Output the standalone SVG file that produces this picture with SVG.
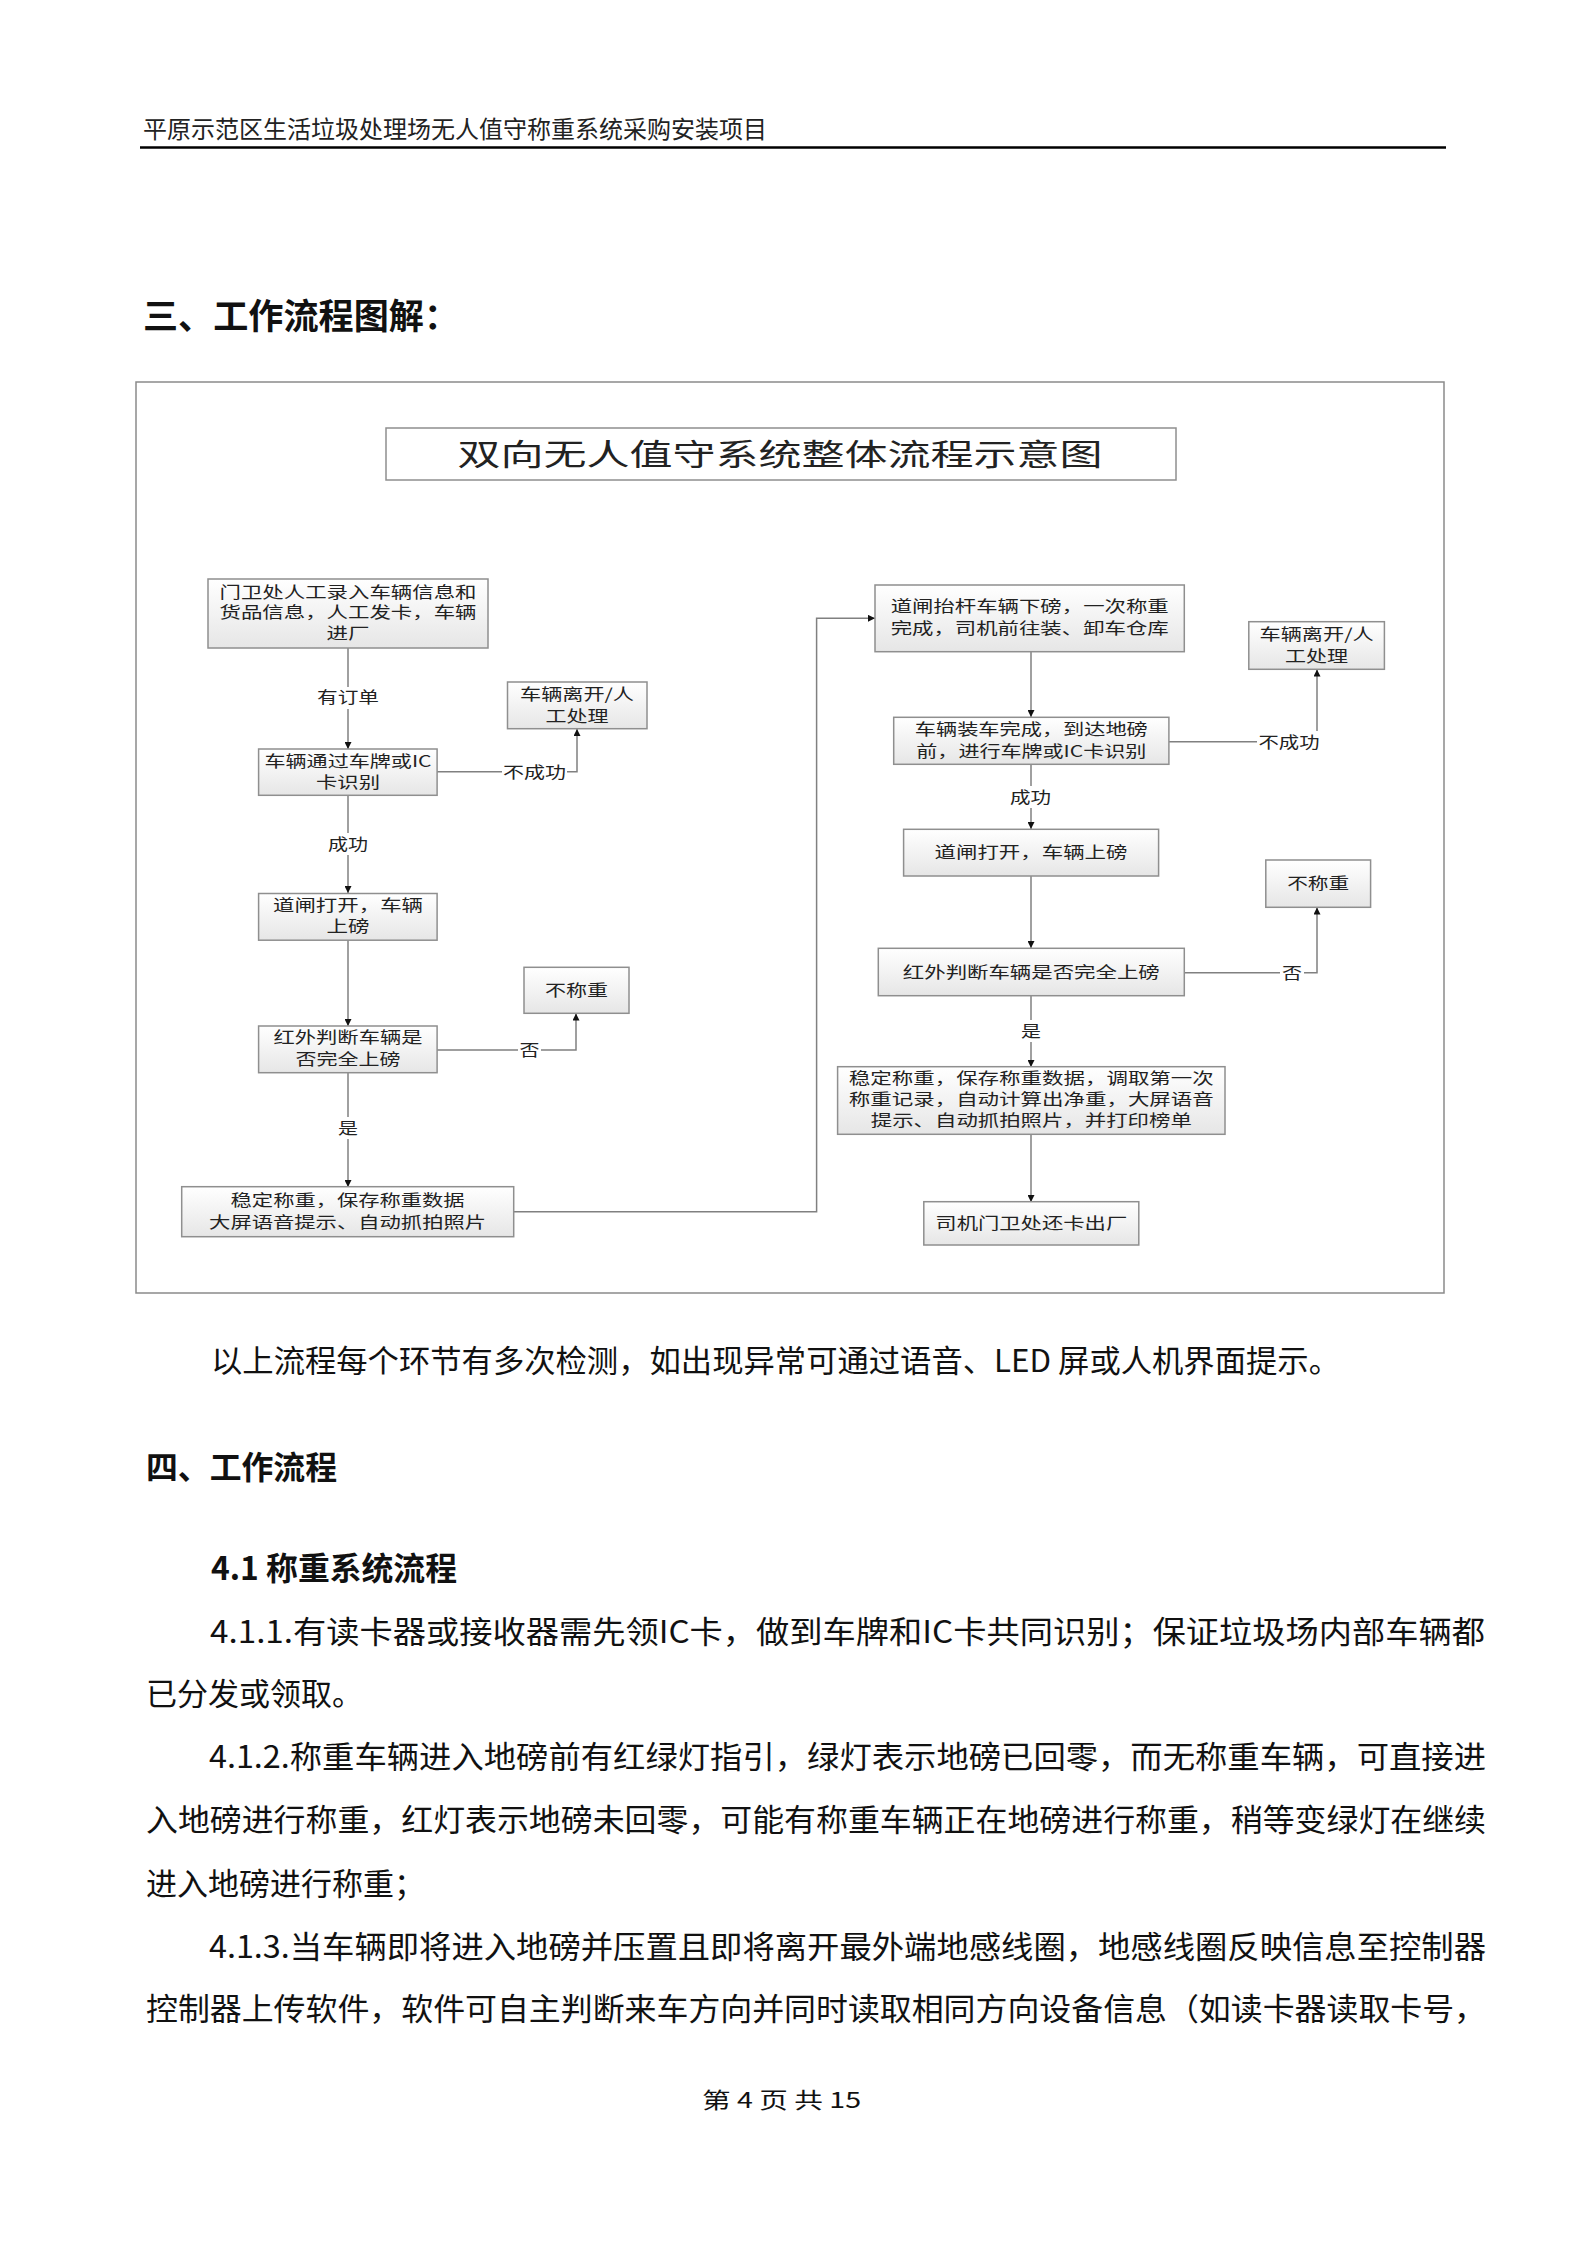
<svg xmlns="http://www.w3.org/2000/svg" width="1587" height="2245" viewBox="0 0 1587 2245">
<defs>
<linearGradient id="bg" x1="0" y1="0" x2="0" y2="1">
<stop offset="0" stop-color="#ffffff"/>
<stop offset="1" stop-color="#e6e6e6"/>
</linearGradient>
<marker id="arr" viewBox="0 0 10 10" refX="10" refY="5" markerWidth="7" markerHeight="7" markerUnits="userSpaceOnUse" orient="auto">
<path d="M0,0 L10,5 L0,10 z" fill="#111"/>
</marker>
</defs>
<style>
text{font-family:"Noto Sans CJK SC","Noto Sans",sans-serif;fill:#111}
.hd{font-size:24px;fill:#222}
.h1{font-size:35px;font-weight:bold}
.h2{font-size:32px;font-weight:bold}
.body{font-size:31px}
.nd rect{fill:url(#bg);stroke:#8f8f8f;stroke-width:1.5}
.nd text{font-size:16px;fill:#222;text-anchor:middle}
.lbl text{font-size:16px;fill:#222;text-anchor:middle}
.lbl rect{fill:#fff}
.cn{fill:none;stroke:#808080;stroke-width:1.5}
</style>
<rect x="0" y="0" width="1587" height="2245" fill="#fff"/>

<!-- page header -->
<text class="hd" x="143" y="138" textLength="624" lengthAdjust="spacingAndGlyphs">平原示范区生活垃圾处理场无人值守称重系统采购安装项目</text>
<line x1="140" y1="147.5" x2="1446" y2="147.5" stroke="#000" stroke-width="2.5"/>

<text class="h1" x="143" y="329" textLength="316" lengthAdjust="spacingAndGlyphs">三、工作流程图解：</text>

<!-- diagram frame -->
<rect x="136" y="382" width="1308" height="911" fill="none" stroke="#8a8a8a" stroke-width="1.5"/>

<g id="title" class="nd">
<rect x="386" y="428" width="790" height="52" fill="#fff" style="fill:#fff"/>
<text x="780" y="465" style="font-size:30px" textLength="645" lengthAdjust="spacingAndGlyphs">双向无人值守系统整体流程示意图</text>
</g>

<!-- connectors -->
<g id="connectors">
<line class="cn" x1="348" y1="648" x2="348" y2="749" marker-end="url(#arr)"/>
<polyline class="cn" points="437,771.7 577,771.7 577,729" marker-end="url(#arr)"/>
<line class="cn" x1="348" y1="795" x2="348" y2="893" marker-end="url(#arr)"/>
<line class="cn" x1="348" y1="940" x2="348" y2="1026" marker-end="url(#arr)"/>
<polyline class="cn" points="437,1050 576,1050 576,1013.5" marker-end="url(#arr)"/>
<line class="cn" x1="348" y1="1073" x2="348" y2="1187" marker-end="url(#arr)"/>
<polyline class="cn" points="513.6,1211.7 816.6,1211.7 816.6,618.3 875,618.3" marker-end="url(#arr)"/>
<line class="cn" x1="1031" y1="652" x2="1031" y2="717" marker-end="url(#arr)"/>
<polyline class="cn" points="1169,741.7 1317,741.7 1317,669.5" marker-end="url(#arr)"/>
<line class="cn" x1="1031" y1="764" x2="1031" y2="829" marker-end="url(#arr)"/>
<line class="cn" x1="1031" y1="876" x2="1031" y2="948" marker-end="url(#arr)"/>
<polyline class="cn" points="1184.3,972.7 1317,972.7 1317,907.5" marker-end="url(#arr)"/>
<line class="cn" x1="1031" y1="996" x2="1031" y2="1067" marker-end="url(#arr)"/>
<line class="cn" x1="1031" y1="1134" x2="1031" y2="1202" marker-end="url(#arr)"/>

<g class="lbl">
<rect x="315" y="687" width="66" height="22"/><text x="348" y="703" textLength="62" lengthAdjust="spacingAndGlyphs">有订单</text>
<rect x="502" y="761" width="65" height="22"/><text x="534.5" y="777.5" textLength="63" lengthAdjust="spacingAndGlyphs">不成功</text>
<rect x="326" y="833" width="44" height="22"/><text x="348" y="850" textLength="40" lengthAdjust="spacingAndGlyphs">成功</text>
<rect x="518" y="1039" width="23" height="22"/><text x="529.5" y="1056" textLength="20" lengthAdjust="spacingAndGlyphs">否</text>
<rect x="336" y="1117" width="24" height="22"/><text x="348" y="1134" textLength="20" lengthAdjust="spacingAndGlyphs">是</text>
<rect x="1257" y="731" width="64" height="22"/><text x="1289" y="747.5" textLength="61" lengthAdjust="spacingAndGlyphs">不成功</text>
<rect x="1008" y="786" width="45" height="22"/><text x="1030.5" y="803" textLength="41" lengthAdjust="spacingAndGlyphs">成功</text>
<rect x="1280" y="962" width="24" height="22"/><text x="1292" y="978.5" textLength="20" lengthAdjust="spacingAndGlyphs">否</text>
<rect x="1019" y="1020" width="24" height="22"/><text x="1031" y="1037" textLength="20" lengthAdjust="spacingAndGlyphs">是</text>
</g>
</g>

<!-- left column nodes -->
<g id="n1" class="nd">
<rect x="208" y="579" width="280" height="69"/>
<text x="348" y="597.5" textLength="257" lengthAdjust="spacingAndGlyphs">门卫处人工录入车辆信息和</text>
<text x="348" y="618" textLength="257" lengthAdjust="spacingAndGlyphs">货品信息，人工发卡，车辆</text>
<text x="348" y="638.5" textLength="43" lengthAdjust="spacingAndGlyphs">进厂</text>
</g>
<g id="n2" class="nd">
<rect x="258.6" y="749" width="178.5" height="46.3"/>
<text x="348" y="766.5" textLength="167" lengthAdjust="spacingAndGlyphs">车辆通过车牌或IC</text>
<text x="348" y="787.5" textLength="64" lengthAdjust="spacingAndGlyphs">卡识别</text>
</g>
<g id="n2x" class="nd">
<rect x="507.5" y="682" width="139.5" height="46.7"/>
<text x="577" y="700" textLength="114" lengthAdjust="spacingAndGlyphs">车辆离开/人</text>
<text x="577" y="721.5" textLength="63" lengthAdjust="spacingAndGlyphs">工处理</text>
</g>
<g id="n3" class="nd">
<rect x="258.6" y="893.5" width="178.5" height="46.7"/>
<text x="348" y="910.5" textLength="150" lengthAdjust="spacingAndGlyphs">道闸打开，车辆</text>
<text x="348" y="932" textLength="43" lengthAdjust="spacingAndGlyphs">上磅</text>
</g>
<g id="n4x" class="nd">
<rect x="524" y="967.3" width="105" height="46"/>
<text x="576.5" y="995.5" textLength="63" lengthAdjust="spacingAndGlyphs">不称重</text>
</g>
<g id="n4" class="nd">
<rect x="258.6" y="1026" width="178.5" height="46.7"/>
<text x="348" y="1042.5" textLength="149" lengthAdjust="spacingAndGlyphs">红外判断车辆是</text>
<text x="348" y="1064.5" textLength="105" lengthAdjust="spacingAndGlyphs">否完全上磅</text>
</g>
<g id="n5" class="nd">
<rect x="181.7" y="1186.7" width="332" height="50"/>
<text x="347.6" y="1205.5" textLength="234" lengthAdjust="spacingAndGlyphs">稳定称重，保存称重数据</text>
<text x="347.6" y="1227.5" textLength="277" lengthAdjust="spacingAndGlyphs">大屏语音提示、自动抓拍照片</text>
</g>

<!-- right column nodes -->
<g id="r1" class="nd">
<rect x="875" y="585" width="309.3" height="66.7"/>
<text x="1029.7" y="612" textLength="278" lengthAdjust="spacingAndGlyphs">道闸抬杆车辆下磅，一次称重</text>
<text x="1029.7" y="634" textLength="278" lengthAdjust="spacingAndGlyphs">完成，司机前往装、卸车仓库</text>
</g>
<g id="r1x" class="nd">
<rect x="1248.8" y="621.7" width="135.6" height="47.6"/>
<text x="1316.6" y="639.5" textLength="114" lengthAdjust="spacingAndGlyphs">车辆离开/人</text>
<text x="1316.6" y="662" textLength="63" lengthAdjust="spacingAndGlyphs">工处理</text>
</g>
<g id="r2" class="nd">
<rect x="893.7" y="717.3" width="275.2" height="47"/>
<text x="1031.3" y="735" textLength="233" lengthAdjust="spacingAndGlyphs">车辆装车完成，到达地磅</text>
<text x="1031.3" y="756.5" textLength="230" lengthAdjust="spacingAndGlyphs">前，进行车牌或IC卡识别</text>
</g>
<g id="r3" class="nd">
<rect x="903.6" y="829.3" width="255" height="46.7"/>
<text x="1031" y="858" textLength="193" lengthAdjust="spacingAndGlyphs">道闸打开，车辆上磅</text>
</g>
<g id="r3x" class="nd">
<rect x="1265.8" y="860" width="104.8" height="47.3"/>
<text x="1318.2" y="889" textLength="62" lengthAdjust="spacingAndGlyphs">不称重</text>
</g>
<g id="r4" class="nd">
<rect x="878.3" y="948.3" width="306" height="47.4"/>
<text x="1031.3" y="978" textLength="257" lengthAdjust="spacingAndGlyphs">红外判断车辆是否完全上磅</text>
</g>
<g id="r5" class="nd">
<rect x="837.6" y="1066.7" width="387.4" height="67.6"/>
<text x="1031.3" y="1084" textLength="365" lengthAdjust="spacingAndGlyphs">稳定称重，保存称重数据，调取第一次</text>
<text x="1031.3" y="1104.5" textLength="365" lengthAdjust="spacingAndGlyphs">称重记录，自动计算出净重，大屏语音</text>
<text x="1031.3" y="1125.5" textLength="321" lengthAdjust="spacingAndGlyphs">提示、自动抓拍照片，并打印榜单</text>
</g>
<g id="r6" class="nd">
<rect x="923.8" y="1201.7" width="215" height="43.3"/>
<text x="1031.3" y="1229" textLength="192" lengthAdjust="spacingAndGlyphs">司机门卫处还卡出厂</text>
</g>

<!-- body text -->
<text class="body" x="211" y="1372" textLength="1129" lengthAdjust="spacingAndGlyphs">以上流程每个环节有多次检测，如出现异常可通过语音、LED 屏或人机界面提示。</text>
<text class="h2" x="146" y="1479" textLength="191" lengthAdjust="spacingAndGlyphs">四、工作流程</text>
<text class="h2" x="211" y="1580" textLength="246" lengthAdjust="spacingAndGlyphs">4.1 称重系统流程</text>
<text class="body" x="210" y="1643" textLength="1275" lengthAdjust="spacingAndGlyphs">4.1.1.有读卡器或接收器需先领IC卡，做到车牌和IC卡共同识别；保证垃圾场内部车辆都</text>
<text class="body" x="146" y="1705">已分发或领取。</text>
<text class="body" x="209" y="1768" textLength="1277" lengthAdjust="spacingAndGlyphs">4.1.2.称重车辆进入地磅前有红绿灯指引，绿灯表示地磅已回零，而无称重车辆，可直接进</text>
<text class="body" x="146" y="1831" textLength="1340" lengthAdjust="spacingAndGlyphs">入地磅进行称重，红灯表示地磅未回零，可能有称重车辆正在地磅进行称重，稍等变绿灯在继续</text>
<text class="body" x="146" y="1895">进入地磅进行称重；</text>
<text class="body" x="209" y="1958" textLength="1277" lengthAdjust="spacingAndGlyphs">4.1.3.当车辆即将进入地磅并压置且即将离开最外端地感线圈，地感线圈反映信息至控制器</text>
<text class="body" x="146" y="2020" textLength="1340" lengthAdjust="spacingAndGlyphs">控制器上传软件，软件可自主判断来车方向并同时读取相同方向设备信息（如读卡器读取卡号，</text>
<text x="702" y="2108" style="font-size:22px" textLength="159" lengthAdjust="spacingAndGlyphs">第 4 页 共 15</text>
</svg>
